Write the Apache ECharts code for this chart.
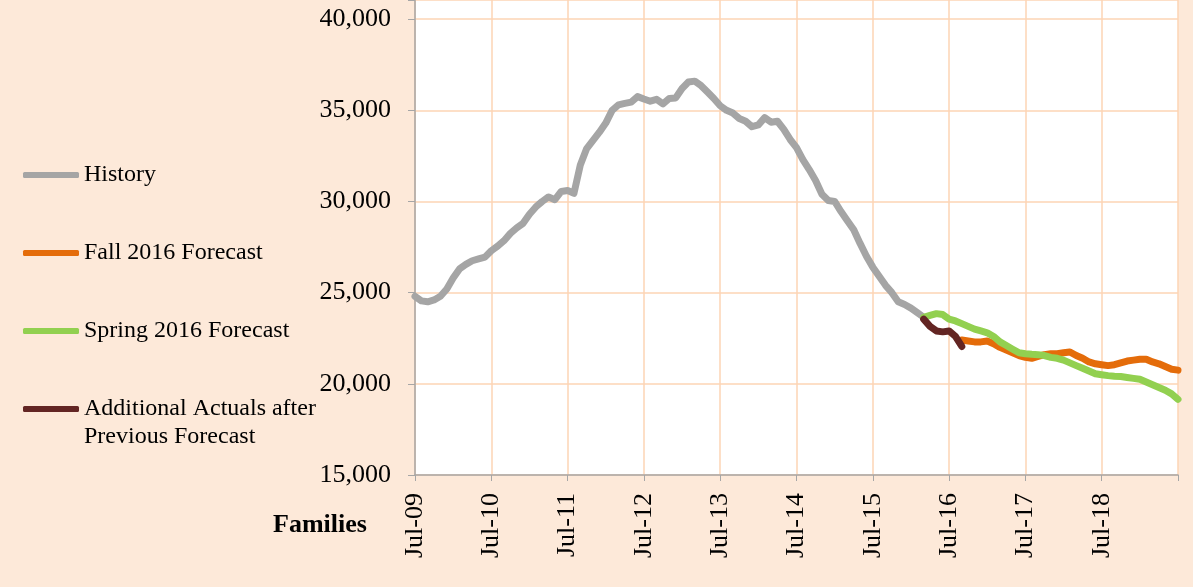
<!doctype html>
<html>
    <head>
        <meta charset="utf-8">
        <title>Families - forecast</title>
        <style>
            html, body { margin: 0; padding: 0; background: #fde9d9; }
            #main { width: 1193px; height: 587px; }
        </style>
    </head>
    <body>
        <div id="main"></div>
        <script src="https://cdn.jsdelivr.net/npm/echarts@6/dist/echarts.min.js"></script>
        <script>
            // months Jul-09 .. Jul-19
            var monthNames = ['Jan', 'Feb', 'Mar', 'Apr', 'May', 'Jun', 'Jul', 'Aug', 'Sep', 'Oct', 'Nov', 'Dec'];
            var months = [];
            for (var i = 0; i <= 120; i++) {
                var m = (6 + i) % 12;
                var y = 9 + Math.floor((6 + i) / 12);
                months.push(monthNames[m] + '-' + (y < 10 ? '0' + y : y));
            }

            var seriesNames = ['History', 'Fall 2016 Forecast', 'Spring 2016 Forecast', 'Additional Actuals after Previous Forecast'];

            // History: Jul-09 .. Mar-16
            var historyValues = [
                24800, 24550, 24500, 24600, 24800, 25200, 25800, 26300, 26550, 26750, 26850, 26950,
                27300, 27550, 27850, 28250, 28550, 28800, 29300, 29700, 30000, 30250, 30100, 30550,
                30600, 30450, 32000, 32900, 33350, 33800, 34300, 35000, 35300, 35380, 35450, 35750,
                35620, 35500, 35600, 35350, 35650, 35680, 36200, 36550, 36600, 36350, 36000, 35650,
                35250, 35000, 34850, 34550, 34400, 34100, 34200, 34600, 34350, 34400, 33950, 33400,
                32950, 32300, 31750, 31150, 30400, 30050, 30000, 29450, 28950, 28450, 27700, 27000,
                26400, 25900, 25400, 25000, 24500, 24350, 24150, 23900, 23650
            ];
            var historyStart = 0;

            // Fall 2016 forecast: Sep-16 .. Jul-19
            var fall2016 = [
                22400, 22350, 22300, 22300, 22350, 22200, 22000, 21850, 21700, 21550,
                21450, 21400, 21500, 21600, 21650, 21650, 21700, 21750, 21550, 21400, 21200, 21100,
                21050, 21000, 21050, 21150, 21250, 21300, 21350, 21350, 21200, 21100, 20950, 20800,
                20750
            ];
            var fallStart = 86;

            // Spring 2016 forecast: Mar-16 .. Jul-19
            var spring2016 = [
                23650, 23750, 23850, 23800, 23550, 23450, 23300, 23150, 23000, 22900, 22800, 22600,
                22300, 22100, 21900, 21700, 21650, 21620, 21600, 21550, 21450, 21400, 21300, 21150,
                21000, 20850, 20700, 20550, 20500, 20450, 20420, 20400, 20350, 20300, 20250, 20100,
                19950, 19800, 19650, 19450, 19150
            ];
            var springStart = 80;

            // Additional actuals: Mar-16 .. Sep-16
            var actuals = [23550, 23150, 22900, 22850, 22900, 22600, 22050];
            var actualsStart = 80;

            var yTicks = [15000, 20000, 25000, 30000, 35000, 40000];

            function pad(values, start) {
                var out = [];
                for (var k = 0; k < months.length; k++) {
                    var v = values[k - start];
                    out.push(k >= start && v !== undefined ? v : '-');
                }
                return out;
            }

            var serif = 'Liberation Serif';
            var colors = ['#a5a5a5', '#e46c0a', '#92d050', '#632523'];

            function lineSeries(idx, values, start) {
                return {
                    name: seriesNames[idx],
                    type: 'line',
                    data: pad(values, start),
                    showSymbol: false,
                    symbol: 'none',
                    connectNulls: false,
                    z: 2 + idx,
                    lineStyle: { width: 7, color: colors[idx], cap: 'round', join: 'round' },
                    itemStyle: { color: colors[idx] }
                };
            }

            var chart = echarts.init(document.getElementById('main'));
            chart.setOption({
                animation: false,
                backgroundColor: '#fde9d9',
                grid: {
                    left: 415,
                    right: 15,
                    top: 0,
                    bottom: 112,
                    show: true,
                    backgroundColor: '#ffffff',
                    borderWidth: 0
                },
                title: {
                    text: 'Families',
                    left: 273,
                    top: 512,
                    padding: 0,
                    textStyle: { fontFamily: serif, fontWeight: 'bold', fontSize: 26, color: '#000' }
                },
                legend: [{
                    data: seriesNames.slice(0, 3),
                    orient: 'vertical',
                    left: 23,
                    top: 161,
                    padding: 0,
                    itemGap: 50,
                    itemWidth: 56,
                    itemHeight: 6,
                    icon: 'roundRect',
                    selectedMode: false,
                    textStyle: { fontFamily: serif, fontSize: 24, color: '#000', lineHeight: 28 }
                }, {
                    data: [seriesNames[3]],
                    orient: 'vertical',
                    left: 23,
                    top: 367,
                    padding: 0,
                    itemWidth: 56,
                    itemHeight: 6,
                    icon: 'roundRect',
                    selectedMode: false,
                    formatter: function () { return ' \nAdditional Actuals after\nPrevious Forecast'; },
                    textStyle: { fontFamily: serif, fontSize: 24, color: '#000', lineHeight: 28 }
                }],
                xAxis: {
                    type: 'category',
                    data: months,
                    boundaryGap: false,
                    axisLine: { lineStyle: { color: '#a6a6a6', width: 1.5 } },
                    axisTick: { interval: 11, length: 6, lineStyle: { color: '#a6a6a6' } },
                    axisLabel: {
                        interval: function (i) { return i % 12 === 0 && i < 120; },
                        rotate: 90,
                        margin: 18,
                        fontFamily: serif,
                        fontSize: 26,
                        color: '#000'
                    },
                    splitLine: { show: true, interval: 11, lineStyle: { color: '#fcd5b4', width: 1.5 } }
                },
                yAxis: {
                    type: 'value',
                    min: 15000,
                    max: 41050,
                    interval: 5000,
                    axisLine: { show: true, lineStyle: { color: '#a6a6a6', width: 1.5 } },
                    axisTick: { show: true, length: 7, lineStyle: { color: '#a6a6a6' } },
                    axisLabel: {
                        margin: 24,
                        fontFamily: serif,
                        fontSize: 26,
                        color: '#000',
                        formatter: function (v) {
                            return yTicks.indexOf(v) >= 0 ? v.toLocaleString('en-US') : '';
                        }
                    },
                    splitLine: { show: true, lineStyle: { color: '#fcd5b4', width: 1.5 } }
                },
                series: [
                    lineSeries(0, historyValues, historyStart),
                    lineSeries(1, fall2016, fallStart),
                    lineSeries(2, spring2016, springStart),
                    lineSeries(3, actuals, actualsStart)
                ]
            });

            window.onresize = chart.resize;
        </script>
    </body>
</html>
